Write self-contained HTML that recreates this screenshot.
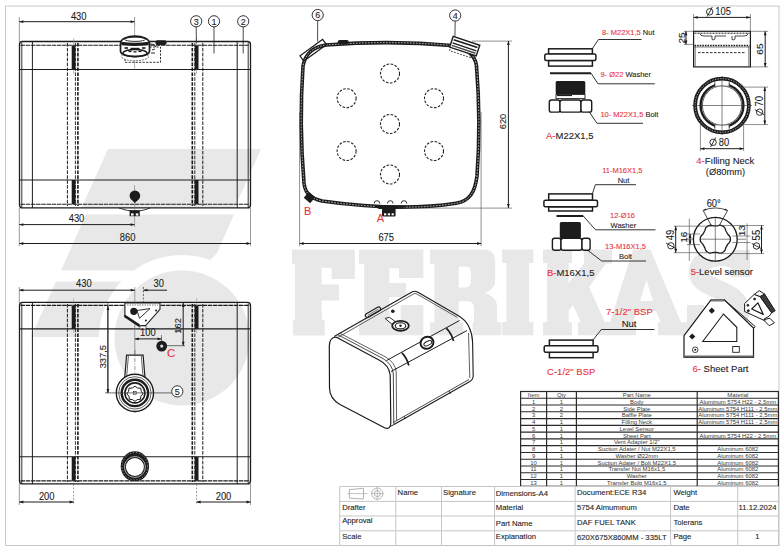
<!DOCTYPE html>
<html><head><meta charset="utf-8"><style>
html,body{margin:0;padding:0;background:#fff;}
body{width:784px;height:552px;overflow:hidden;font-family:"Liberation Sans",sans-serif;}
svg{display:block;}
text{stroke-width:0.1px;}
</style></head><body>
<svg width="784" height="552" viewBox="0 0 784 552" font-family="Liberation Sans">
<defs><mask id="wmcut"><rect x="0" y="0" width="784" height="552" fill="#fff"/><circle cx="182" cy="338" r="83" fill="#000"/></mask></defs>
<g fill="#e8e8e8">
<polygon points="108,149 261,149 234.5,208 81.5,208"/>
<g mask="url(#wmcut)"><polygon points="86,214.5 234,214.5 217,253 200,270.5 61,270.5"/>
<polygon points="56,281.5 150,281.5 125,337 31,337"/></g>
<circle cx="182" cy="338" r="67.5"/>
</g>
<g fill="#e8e8e8" fill-rule="evenodd">
<path d="M291.9,249.6 L354.8,249.6 L354.8,279 L331.6,279 L331.6,267.8 L321.5,267.8 L321.5,284.6 L339,284.6 L339,300.4 L321.5,300.4 L321.9,320 L324.7,320 L324.7,335.5 L293.1,335.5 L293.1,320 L294.9,320 L294.9,264.3 L291.9,264.3 Z"/>
<path d="M359,249.6 L423.3,249.6 L423.3,277.9 L399,277.9 L399,268.3 L389.4,268.3 L389.4,283.1 L406,283.1 L406,297 L389.4,297 L389.4,320.5 L400.7,320.5 L400.7,304.9 L423.3,304.9 L423.3,335.3 L359,335.3 L359,320.5 L364.2,320.5 L364.2,264 L359,264 Z"/>
<path d="M430.1,249.6 L484,249.6 C491,249.6 495.2,254 495.2,261 L495.2,281 C495.2,287 490,291 484.5,293 C491,295 497,299 497,306 L497,322.2 L501.3,322.2 L501.3,335.2 L472.6,335.2 L472.6,322.2 L474,322.2 L474,308 C474,303 471,301.3 467,301.3 L458.7,301.3 L458.7,322.2 L463.1,322.2 L463.1,335.2 L430.1,335.2 L430.1,322.2 L434.4,322.2 L434.4,264 L430.1,264 Z M458.7,266.6 L466,266.6 C469,266.6 470.9,269 470.9,272 L470.9,282 C470.9,285 469,287.4 466,287.4 L458.7,287.4 Z"/>
<path d="M502.1,249.6 L533.4,249.6 L533.4,263 L529,263 L529,322 L533.4,322 L533.4,335.3 L502.1,335.3 L502.1,322 L506.4,322 L506.4,263 L502.1,263 Z"/>
<path d="M543,249.6 L572,249.6 L572,263 L568.7,263 L568.7,283 L584,263.4 L584,249.6 L612,249.6 L612,263.4 L606,263.4 L589,287 L605,322.2 L609,322.2 L609,335.3 L578,335.3 L578,322.2 L581,322.2 L573,305 L568.7,310 L568.7,322.2 L572,322.2 L572,335.3 L543,335.3 L543,322.2 L547.2,322.2 L547.2,263 L543,263 Z"/>
<path d="M633,249.6 L650.5,249.6 L681,322.2 L687,322.2 L687,335.3 L658,335.3 L658,322.2 L661,322.2 L656,311 L637,311 L633,322.2 L636,322.2 L636,335.3 L605.4,335.3 L605.4,322.2 L610,322.2 Z M640,301 L653,301 L646.5,280 Z"/>
</g>
<path d="M740.5,268 C741,253 699,251 698.5,272 C698,291 740,287 740,312 C740,336 698,334 697.5,316" fill="none" stroke="#e8e8e8" stroke-width="19"/>
<rect x="731" y="250" width="19" height="27" fill="#e8e8e8"/><rect x="687" y="305" width="17" height="27" fill="#e8e8e8"/>
<rect x="5.5" y="6" width="773.5" height="539.5" rx="0" fill="none" stroke="#c9c9c9" stroke-width="1" />
<rect x="19.5" y="41.5" width="231" height="166.4" rx="3" fill="none" stroke="#1c1c1c" stroke-width="1.3" />
<line x1="20.5" y1="45.3" x2="249.5" y2="45.3" stroke="#1c1c1c" stroke-width="1.1" stroke-dasharray="4.5,0.7" />
<line x1="20.5" y1="204.3" x2="249.5" y2="204.3" stroke="#1c1c1c" stroke-width="1.1" stroke-dasharray="4.5,0.7" />
<line x1="21.8" y1="42.5" x2="21.8" y2="207" stroke="#1c1c1c" stroke-width="0.9" />
<line x1="248.2" y1="42.5" x2="248.2" y2="207" stroke="#1c1c1c" stroke-width="0.9" />
<line x1="32.4" y1="41.5" x2="32.4" y2="208" stroke="#1c1c1c" stroke-width="1.0" />
<line x1="237.2" y1="41.5" x2="237.2" y2="208" stroke="#1c1c1c" stroke-width="1.0" />
<line x1="19.5" y1="69.5" x2="250.5" y2="69.5" stroke="#1c1c1c" stroke-width="1.1" />
<line x1="19.5" y1="180" x2="250.5" y2="180" stroke="#1c1c1c" stroke-width="1.1" />
<line x1="67.39999999999999" y1="43" x2="67.39999999999999" y2="206" stroke="#1c1c1c" stroke-width="1.0" stroke-dasharray="3.6,1.3" />
<line x1="75.39999999999999" y1="43" x2="75.39999999999999" y2="206" stroke="#1c1c1c" stroke-width="0.9" stroke-dasharray="3.6,1.3" />
<line x1="77.89999999999999" y1="43" x2="77.89999999999999" y2="206" stroke="#1c1c1c" stroke-width="1.6" stroke-dasharray="3.6,1.3" />
<line x1="73.6" y1="38" x2="73.6" y2="74" stroke="#888" stroke-width="0.5" />
<rect x="71.69999999999999" y="45.5" width="3.8" height="24" rx="0" fill="#1c1c1c" stroke="#1c1c1c" stroke-width="0" />
<rect x="71.69999999999999" y="180" width="3.8" height="24" rx="0" fill="#1c1c1c" stroke="#1c1c1c" stroke-width="0" />
<line x1="202.79999999999998" y1="43" x2="202.79999999999998" y2="206" stroke="#1c1c1c" stroke-width="1.0" stroke-dasharray="3.6,1.3" />
<line x1="194.79999999999998" y1="43" x2="194.79999999999998" y2="206" stroke="#1c1c1c" stroke-width="0.9" stroke-dasharray="3.6,1.3" />
<line x1="192.29999999999998" y1="43" x2="192.29999999999998" y2="206" stroke="#1c1c1c" stroke-width="1.6" stroke-dasharray="3.6,1.3" />
<line x1="196.6" y1="38" x2="196.6" y2="74" stroke="#888" stroke-width="0.5" />
<rect x="194.7" y="45.5" width="3.8" height="24" rx="0" fill="#1c1c1c" stroke="#1c1c1c" stroke-width="0" />
<rect x="194.7" y="180" width="3.8" height="24" rx="0" fill="#1c1c1c" stroke="#1c1c1c" stroke-width="0" />
<line x1="134.6" y1="26" x2="134.6" y2="70" stroke="#777" stroke-width="0.6" />
<path d="M146,47 L160.5,47 L160.5,62.3 L125,62.3 L125,58" fill="none" stroke="#1c1c1c" stroke-width="0.9" stroke-dasharray="2.2,1.3" />
<ellipse cx="135" cy="56.5" rx="13.6" ry="4.2" fill="#fff" stroke="#555" stroke-width="0.8" stroke-dasharray="2,1"/>
<path d="M120.5,43.5 C120.5,33.6 149.5,33.6 149.5,43.5 L149.5,51 C149.5,58.5 120.5,58.5 120.5,51 Z" fill="#fff" stroke="#1c1c1c" stroke-width="1.7"/>
<ellipse cx="135" cy="39.3" rx="10.5" ry="2.1" fill="none" stroke="#1c1c1c" stroke-width="0.9"/>
<path d="M121.3,41.8 Q135,43.5 148.7,41.8 L148.7,45.2 Q135,46.8 121.3,45.2 Z" fill="#1c1c1c"/>
<ellipse cx="135" cy="53" rx="12" ry="3.6" fill="none" stroke="#1c1c1c" stroke-width="1.5"/>
<rect x="124.5" y="47.2" width="3.5" height="1.6" rx="0" fill="#1c1c1c" stroke="#1c1c1c" stroke-width="0" />
<rect x="130.5" y="47.8" width="9" height="1.8" rx="0" fill="#1c1c1c" stroke="#1c1c1c" stroke-width="0" />
<rect x="142" y="47.2" width="3.5" height="1.6" rx="0" fill="#1c1c1c" stroke="#1c1c1c" stroke-width="0" />
<rect x="128.5" y="50.6" width="3" height="1.5" rx="0" fill="#1c1c1c" stroke="#1c1c1c" stroke-width="0" />
<rect x="138.5" y="50.6" width="3" height="1.5" rx="0" fill="#1c1c1c" stroke="#1c1c1c" stroke-width="0" />
<rect x="133.5" y="51.2" width="3" height="1.3" rx="0" fill="#1c1c1c" stroke="#1c1c1c" stroke-width="0" />
<path d="M150,44 L154,44.5 L156,47 M152,50 L155,49 M151,53 L155,53" fill="none" stroke="#1c1c1c" stroke-width="0.9" />
<rect x="155.5" y="40.3" width="11" height="4.7" rx="1.8" fill="#1c1c1c" stroke="#1c1c1c" stroke-width="0" />
<line x1="134.6" y1="185" x2="134.6" y2="227" stroke="#777" stroke-width="0.6" />
<path d="M134.9,203 L131.2,199.6 A5.3,5.3 0 1 1 138.6,199.6 Z" fill="#1c1c1c"/>
<path d="M119,208 C124,209.5 127,210.5 130,210.8 L139.5,210.8 C143,210.5 146,209.5 150,208" fill="none" stroke="#1c1c1c" stroke-width="0.9" />
<rect x="129.6" y="210.3" width="10.2" height="5.9" rx="0" fill="#1c1c1c" stroke="#1c1c1c" stroke-width="0" />
<rect x="131" y="213.4" width="2.6" height="2.2" rx="0" fill="#fff" stroke="#1c1c1c" stroke-width="0" />
<rect x="135.8" y="213.4" width="2.6" height="2.2" rx="0" fill="#fff" stroke="#1c1c1c" stroke-width="0" />
<line x1="19.3" y1="17" x2="19.3" y2="42" stroke="#555" stroke-width="0.6" />
<line x1="134.6" y1="17" x2="134.6" y2="26" stroke="#555" stroke-width="0.6" />
<line x1="19.3" y1="21.7" x2="134.6" y2="21.7" stroke="#1c1c1c" stroke-width="1.0" />
<path d="M19.30,21.70 L23.30,20.30 L23.30,23.10 Z" fill="#1c1c1c"/>
<path d="M134.60,21.70 L130.60,23.10 L130.60,20.30 Z" fill="#1c1c1c"/>
<text transform="translate(78.7,19.6) scale(0.9,1)" x="0" y="0" font-size="10.4" text-anchor="middle" fill="#1c1c1c" stroke="#1c1c1c">430</text>
<line x1="19.3" y1="208" x2="19.3" y2="246" stroke="#555" stroke-width="0.6" />
<line x1="250.5" y1="208" x2="250.5" y2="246" stroke="#555" stroke-width="0.6" />
<line x1="19.3" y1="224.6" x2="134.6" y2="224.6" stroke="#1c1c1c" stroke-width="1.0" />
<path d="M19.30,224.60 L23.30,223.20 L23.30,226.00 Z" fill="#1c1c1c"/>
<path d="M134.60,224.60 L130.60,226.00 L130.60,223.20 Z" fill="#1c1c1c"/>
<text transform="translate(76.5,222.3) scale(0.9,1)" x="0" y="0" font-size="10.4" text-anchor="middle" fill="#1c1c1c" stroke="#1c1c1c">430</text>
<line x1="19.3" y1="243.5" x2="250.5" y2="243.5" stroke="#1c1c1c" stroke-width="1.0" />
<path d="M19.30,243.50 L23.30,242.10 L23.30,244.90 Z" fill="#1c1c1c"/>
<path d="M250.50,243.50 L246.50,244.90 L246.50,242.10 Z" fill="#1c1c1c"/>
<text transform="translate(127.6,240.8) scale(0.9,1)" x="0" y="0" font-size="10.4" text-anchor="middle" fill="#1c1c1c" stroke="#1c1c1c">860</text>
<circle cx="196.2" cy="21.3" r="5.6" fill="#fff" stroke="#1c1c1c" stroke-width="0.9"/>
<text x="196.2" y="24.6" font-size="9" text-anchor="middle" fill="#1c1c1c" font-family="Liberation Sans"  stroke="#1c1c1c">3</text>
<line x1="196.2" y1="26.9" x2="196.4" y2="43" stroke="#1c1c1c" stroke-width="0.8" />
<circle cx="214" cy="21.3" r="5.6" fill="#fff" stroke="#1c1c1c" stroke-width="0.9"/>
<text x="214" y="24.6" font-size="9" text-anchor="middle" fill="#1c1c1c" font-family="Liberation Sans"  stroke="#1c1c1c">1</text>
<line x1="214" y1="26.9" x2="214" y2="53.5" stroke="#1c1c1c" stroke-width="0.8" />
<circle cx="243.2" cy="21.3" r="5.6" fill="#fff" stroke="#1c1c1c" stroke-width="0.9"/>
<text x="243.2" y="24.6" font-size="9" text-anchor="middle" fill="#1c1c1c" font-family="Liberation Sans"  stroke="#1c1c1c">2</text>
<line x1="243.2" y1="26.9" x2="243.2" y2="53.5" stroke="#1c1c1c" stroke-width="0.8" />
<path d="M326,45 Q390,40 452,45.5 C466,48 475,54 476.5,66 Q481,122 477,176 C475,192 470,201 456,203.3 Q400,212 322,201 C309,198 305,192 304,183 Q299,124 303,66 C305,55 312,47 326,45 Z" fill="none" stroke="#1c1c1c" stroke-width="3.6" />
<path d="M326,45 Q390,40 452,45.5 C466,48 475,54 476.5,66 Q481,122 477,176 C475,192 470,201 456,203.3 Q400,212 322,201 C309,198 305,192 304,183 Q299,124 303,66 C305,55 312,47 326,45 Z" fill="none" stroke="#fff" stroke-width="0.7" stroke-dasharray="1.6,1.4" />
<circle cx="390" cy="73.5" r="9.5" fill="none" stroke="#222" stroke-width="1.1" stroke-dasharray="2.6,1.5"/>
<circle cx="346.6" cy="98.2" r="9.5" fill="none" stroke="#222" stroke-width="1.1" stroke-dasharray="2.6,1.5"/>
<circle cx="434" cy="98.2" r="9.5" fill="none" stroke="#222" stroke-width="1.1" stroke-dasharray="2.6,1.5"/>
<circle cx="390" cy="124" r="9.5" fill="none" stroke="#222" stroke-width="1.1" stroke-dasharray="2.6,1.5"/>
<circle cx="346.6" cy="151" r="9.5" fill="none" stroke="#222" stroke-width="1.1" stroke-dasharray="2.6,1.5"/>
<circle cx="434" cy="151" r="9.5" fill="none" stroke="#222" stroke-width="1.1" stroke-dasharray="2.6,1.5"/>
<circle cx="390" cy="174.5" r="9.5" fill="none" stroke="#222" stroke-width="1.1" stroke-dasharray="2.6,1.5"/>
<g transform="translate(313.2,50.3) rotate(-36)"><rect x="-14" y="-3.3" width="28" height="6.6" fill="none" stroke="#1c1c1c" stroke-width="1.2"/></g>
<rect x="337.8" y="40" width="10.9" height="4.2" rx="1.8" fill="#1c1c1c" stroke="#1c1c1c" stroke-width="0" />
<g transform="translate(464.7,46.2) rotate(18.4)"><path d="M-13,4 L-13,9 L10,9" fill="none" stroke="#1c1c1c" stroke-width="0.7" stroke-dasharray="2,1.2"/><rect x="-14" y="-5.6" width="28" height="11.2" fill="#fff" stroke="#1c1c1c" stroke-width="1.4"/><rect x="-12.5" y="-3.5" width="25" height="1.6" fill="#1c1c1c"/><rect x="-12.5" y="0" width="25" height="1.4" fill="#1c1c1c"/><rect x="-12.5" y="2.6" width="25" height="1.4" fill="#1c1c1c" opacity="0.8"/></g>
<g transform="translate(309.5,197.5) rotate(40)"><rect x="-4.2" y="-4" width="8.4" height="8" fill="#1c1c1c"/></g>
<path d="M374.2,203.5 A2.8,2.8 0 0 1 379.8,203.5" fill="none" stroke="#1c1c1c" stroke-width="0.9" />
<path d="M387.5,203.5 A2.8,2.8 0 0 1 393.1,203.5" fill="none" stroke="#1c1c1c" stroke-width="0.9" />
<path d="M401.2,203.5 A2.8,2.8 0 0 1 406.8,203.5" fill="none" stroke="#1c1c1c" stroke-width="0.9" />
<path d="M374,205.5 L407,205.5 L402,209 L379,209 Z" fill="#1c1c1c" stroke="#1c1c1c" stroke-width="0" />
<rect x="382" y="208.5" width="13.6" height="8" rx="1" fill="#1c1c1c" stroke="#1c1c1c" stroke-width="0" />
<rect x="384" y="213.3" width="2.2" height="2" rx="0" fill="#fff" stroke="#1c1c1c" stroke-width="0" />
<rect x="387.8" y="213.3" width="2.2" height="2" rx="0" fill="#fff" stroke="#1c1c1c" stroke-width="0" />
<rect x="391.6" y="213.3" width="2.2" height="2" rx="0" fill="#fff" stroke="#1c1c1c" stroke-width="0" />
<text x="307.6" y="215.2" font-size="11" text-anchor="middle" fill="#e8333f" font-family="Liberation Sans"  stroke="#e8333f">B</text>
<text x="380.3" y="222.2" font-size="11" text-anchor="middle" fill="#e8333f" font-family="Liberation Sans"  stroke="#e8333f">A</text>
<line x1="472" y1="41.1" x2="512" y2="41.1" stroke="#444" stroke-width="0.6" />
<line x1="397" y1="208.1" x2="512" y2="208.1" stroke="#444" stroke-width="0.6" />
<line x1="508.4" y1="41.1" x2="508.4" y2="208.1" stroke="#1c1c1c" stroke-width="1.0" />
<path d="M508.40,41.10 L509.80,45.10 L507.00,45.10 Z" fill="#1c1c1c"/>
<path d="M508.40,208.10 L507.00,204.10 L509.80,204.10 Z" fill="#1c1c1c"/>
<text transform="translate(506.1,121.5) scale(0.95,1) rotate(-90)" x="0" y="0" font-size="9.3" text-anchor="middle" fill="#1c1c1c" stroke="#1c1c1c">620</text>
<line x1="299.6" y1="112" x2="299.6" y2="246" stroke="#444" stroke-width="0.6" />
<line x1="481.1" y1="112" x2="481.1" y2="246" stroke="#444" stroke-width="0.6" />
<line x1="299.6" y1="243.5" x2="481.1" y2="243.5" stroke="#1c1c1c" stroke-width="1.0" />
<path d="M299.60,243.50 L303.60,242.10 L303.60,244.90 Z" fill="#1c1c1c"/>
<path d="M481.10,243.50 L477.10,244.90 L477.10,242.10 Z" fill="#1c1c1c"/>
<text transform="translate(386.2,240.8) scale(0.9,1)" x="0" y="0" font-size="10.4" text-anchor="middle" fill="#1c1c1c" stroke="#1c1c1c">675</text>
<circle cx="317.7" cy="15" r="5.6" fill="#fff" stroke="#1c1c1c" stroke-width="0.9"/>
<text x="317.7" y="18.3" font-size="9" text-anchor="middle" fill="#1c1c1c" font-family="Liberation Sans"  stroke="#1c1c1c">6</text>
<line x1="317.7" y1="20.6" x2="317.6" y2="41.5" stroke="#1c1c1c" stroke-width="0.8" />
<circle cx="455.2" cy="15.5" r="5.6" fill="#fff" stroke="#1c1c1c" stroke-width="0.9"/>
<text x="455.2" y="18.8" font-size="9" text-anchor="middle" fill="#1c1c1c" font-family="Liberation Sans"  stroke="#1c1c1c">4</text>
<line x1="455.2" y1="21.1" x2="454.9" y2="36.5" stroke="#1c1c1c" stroke-width="0.8" />
<rect x="19.5" y="302.4" width="231" height="181.5" rx="3" fill="none" stroke="#1c1c1c" stroke-width="1.3" />
<line x1="20.5" y1="305.4" x2="249.5" y2="305.4" stroke="#1c1c1c" stroke-width="1.1" stroke-dasharray="4.5,0.7" />
<line x1="20.5" y1="480.9" x2="249.5" y2="480.9" stroke="#1c1c1c" stroke-width="1.1" stroke-dasharray="4.5,0.7" />
<line x1="21.8" y1="303.4" x2="21.8" y2="483" stroke="#1c1c1c" stroke-width="0.9" />
<line x1="248.2" y1="303.4" x2="248.2" y2="483" stroke="#1c1c1c" stroke-width="0.9" />
<line x1="32.4" y1="302.4" x2="32.4" y2="484" stroke="#1c1c1c" stroke-width="1.0" />
<line x1="237.2" y1="302.4" x2="237.2" y2="484" stroke="#1c1c1c" stroke-width="1.0" />
<line x1="19.5" y1="328.9" x2="250.5" y2="328.9" stroke="#1c1c1c" stroke-width="1.1" />
<line x1="19.5" y1="456.8" x2="250.5" y2="456.8" stroke="#1c1c1c" stroke-width="1.1" />
<line x1="67.39999999999999" y1="304" x2="67.39999999999999" y2="482" stroke="#1c1c1c" stroke-width="1.0" stroke-dasharray="3.6,1.3" />
<line x1="75.39999999999999" y1="304" x2="75.39999999999999" y2="482" stroke="#1c1c1c" stroke-width="0.9" stroke-dasharray="3.6,1.3" />
<line x1="77.89999999999999" y1="304" x2="77.89999999999999" y2="482" stroke="#1c1c1c" stroke-width="1.6" stroke-dasharray="3.6,1.3" />
<line x1="73.6" y1="298" x2="73.6" y2="333" stroke="#888" stroke-width="0.5" />
<rect x="71.69999999999999" y="305.6" width="3.8" height="23.3" rx="0" fill="#1c1c1c" stroke="#1c1c1c" stroke-width="0" />
<rect x="71.69999999999999" y="456.8" width="3.8" height="24" rx="0" fill="#1c1c1c" stroke="#1c1c1c" stroke-width="0" />
<line x1="202.79999999999998" y1="304" x2="202.79999999999998" y2="482" stroke="#1c1c1c" stroke-width="1.0" stroke-dasharray="3.6,1.3" />
<line x1="194.79999999999998" y1="304" x2="194.79999999999998" y2="482" stroke="#1c1c1c" stroke-width="0.9" stroke-dasharray="3.6,1.3" />
<line x1="192.29999999999998" y1="304" x2="192.29999999999998" y2="482" stroke="#1c1c1c" stroke-width="1.6" stroke-dasharray="3.6,1.3" />
<line x1="196.6" y1="298" x2="196.6" y2="333" stroke="#888" stroke-width="0.5" />
<rect x="194.7" y="305.6" width="3.8" height="23.3" rx="0" fill="#1c1c1c" stroke="#1c1c1c" stroke-width="0" />
<rect x="194.7" y="456.8" width="3.8" height="24" rx="0" fill="#1c1c1c" stroke="#1c1c1c" stroke-width="0" />
<line x1="107.9" y1="303" x2="107.9" y2="393" stroke="#333" stroke-width="0.7" />
<line x1="134.8" y1="287" x2="134.8" y2="413" stroke="#666" stroke-width="0.6" />
<line x1="143.4" y1="287" x2="143.4" y2="303" stroke="#333" stroke-width="0.7" stroke-dasharray="2,1.5" />
<path d="M124.9,302.9 L160,302.9 L160,309.3 L145.9,325.3 L139.5,326 L124.9,316.4 Z" fill="#fff" stroke="#1c1c1c" stroke-width="1.1"/>
<path d="M124.9,314.5 L140,324.5 L139,327 L124,317 Z" fill="#1c1c1c"/>
<path d="M137,310.5 L150,308.6 L139.5,318.3 Z" fill="none" stroke="#1c1c1c" stroke-width="0.9"/>
<circle cx="133.8" cy="311.3" r="3.6" fill="#1c1c1c" stroke="#1c1c1c" stroke-width="0"/>
<circle cx="156.1" cy="310.6" r="1" fill="#1c1c1c" stroke="#1c1c1c" stroke-width="0"/>
<circle cx="145.9" cy="320.6" r="1" fill="#1c1c1c" stroke="#1c1c1c" stroke-width="0"/>
<line x1="127" y1="305" x2="158" y2="305" stroke="#555" stroke-width="0.8" stroke-dasharray="1.5,1" />
<rect x="140" y="326" width="6" height="3" rx="0" fill="#fff" stroke="#1c1c1c" stroke-width="0.6" />
<line x1="143.4" y1="290.2" x2="167" y2="290.2" stroke="#1c1c1c" stroke-width="1.0" />
<path d="M143.40,290.20 L147.40,288.80 L147.40,291.60 Z" fill="#1c1c1c"/>
<text transform="translate(83.8,287.4) scale(0.9,1)" x="0" y="0" font-size="10.4" text-anchor="middle" fill="#1c1c1c" stroke="#1c1c1c">430</text>
<text transform="translate(158.8,287.4) scale(0.9,1)" x="0" y="0" font-size="10.4" text-anchor="middle" fill="#1c1c1c" stroke="#1c1c1c">30</text>
<line x1="19.3" y1="290.2" x2="134.8" y2="290.2" stroke="#1c1c1c" stroke-width="1.0" />
<path d="M19.30,290.20 L23.30,288.80 L23.30,291.60 Z" fill="#1c1c1c"/>
<path d="M134.80,290.20 L130.80,291.60 L130.80,288.80 Z" fill="#1c1c1c"/>
<line x1="19.3" y1="287" x2="19.3" y2="303" stroke="#555" stroke-width="0.6" />
<line x1="183.2" y1="303" x2="183.2" y2="345.7" stroke="#1c1c1c" stroke-width="1.0" />
<path d="M183.20,303.00 L184.60,307.00 L181.80,307.00 Z" fill="#1c1c1c"/>
<path d="M183.20,345.70 L181.80,341.70 L184.60,341.70 Z" fill="#1c1c1c"/>
<line x1="161" y1="345.7" x2="185" y2="345.7" stroke="#333" stroke-width="0.7" />
<text transform="translate(180.8,325.9) scale(0.95,1) rotate(-90)" x="0" y="0" font-size="9.3" text-anchor="middle" fill="#1c1c1c" stroke="#1c1c1c">162</text>
<line x1="134.8" y1="338.9" x2="161.5" y2="338.9" stroke="#1c1c1c" stroke-width="1.0" />
<path d="M134.80,338.90 L138.80,337.50 L138.80,340.30 Z" fill="#1c1c1c"/>
<path d="M161.50,338.90 L157.50,340.30 L157.50,337.50 Z" fill="#1c1c1c"/>
<line x1="161.5" y1="335" x2="161.5" y2="341" stroke="#333" stroke-width="0.6" />
<text transform="translate(147.8,336.4) scale(0.9,1)" x="0" y="0" font-size="10.4" text-anchor="middle" fill="#1c1c1c" stroke="#1c1c1c">100</text>
<circle cx="161.7" cy="346.1" r="5.4" fill="#1c1c1c" stroke="#1c1c1c" stroke-width="0"/>
<circle cx="161.7" cy="346.1" r="1.6" fill="#ddd" stroke="#1c1c1c" stroke-width="0"/>
<text x="171.1" y="356.8" font-size="11.5" text-anchor="middle" fill="#e8333f" font-family="Liberation Sans"  stroke="#e8333f">C</text>
<path d="M126.6,355.2 L143.1,355.2 L145,378 L124.7,378 Z" fill="#fff" stroke="#1c1c1c" stroke-width="1.2"/>
<line x1="128.4" y1="356" x2="126.6" y2="377" stroke="#1c1c1c" stroke-width="0.7" />
<line x1="141.3" y1="356" x2="143.1" y2="377" stroke="#1c1c1c" stroke-width="0.7" />
<line x1="134.9" y1="350" x2="134.9" y2="412" stroke="#555" stroke-width="0.6" stroke-dasharray="4,1.5,1,1.5" />
<circle cx="134.9" cy="392.9" r="18.6" fill="#fff" stroke="#1c1c1c" stroke-width="1.4"/>
<circle cx="134.9" cy="392.9" r="16.2" fill="none" stroke="#1c1c1c" stroke-width="0.7"/>
<circle cx="134.9" cy="392.9" r="13.2" fill="none" stroke="#1c1c1c" stroke-width="2.4"/>
<circle cx="134.9" cy="392.9" r="10" fill="none" stroke="#1c1c1c" stroke-width="1.6"/>
<path d="M134.9,386.2 L137.5,388 L140.8,388.2 L141.2,391.3 L143,393.9 L140.8,396.2 L140.5,399.3 L137.4,399.6 L134.9,401.3 L132.4,399.6 L129.3,399.3 L129,396.2 L126.8,393.9 L128.6,391.3 L129,388.2 L132.3,388 Z" fill="#fff" stroke="#1c1c1c" stroke-width="1"/>
<rect x="133.6" y="391.6" width="2.6" height="2.6" rx="0" fill="#eee" stroke="#1c1c1c" stroke-width="0.6" />
<line x1="107.9" y1="305.9" x2="107.9" y2="392.9" stroke="#1c1c1c" stroke-width="1.0" />
<path d="M107.90,305.90 L109.30,309.90 L106.50,309.90 Z" fill="#1c1c1c"/>
<path d="M107.90,392.90 L106.50,388.90 L109.30,388.90 Z" fill="#1c1c1c"/>
<line x1="105" y1="392.9" x2="171.6" y2="392.9" stroke="#333" stroke-width="0.7" />
<text transform="translate(106.2,356.7) scale(0.95,1) rotate(-90)" x="0" y="0" font-size="9.3" text-anchor="middle" fill="#1c1c1c" stroke="#1c1c1c">337,5</text>
<circle cx="177.3" cy="391.4" r="5.6" fill="#fff" stroke="#1c1c1c" stroke-width="0.9"/>
<text x="177.3" y="394.7" font-size="9" text-anchor="middle" fill="#1c1c1c" font-family="Liberation Sans"  stroke="#1c1c1c">5</text>
<ellipse cx="134.9" cy="466.3" rx="14.2" ry="15" fill="#1c1c1c"/>
<ellipse cx="134.9" cy="466.3" rx="12.8" ry="13.6" fill="none" stroke="#fff" stroke-width="0.6" stroke-dasharray="1,2"/>
<circle cx="134.9" cy="467" r="9" fill="#fff" stroke="#1c1c1c" stroke-width="0"/>
<circle cx="134.9" cy="467" r="10.5" fill="none" stroke="#fff" stroke-width="0.6"/>
<line x1="19.3" y1="484" x2="19.3" y2="505" stroke="#555" stroke-width="0.6" />
<line x1="73.6" y1="484" x2="73.6" y2="505" stroke="#555" stroke-width="0.6" stroke-dasharray="2,1.5" />
<line x1="196.6" y1="484" x2="196.6" y2="505" stroke="#555" stroke-width="0.6" stroke-dasharray="2,1.5" />
<line x1="250.5" y1="484" x2="250.5" y2="505" stroke="#555" stroke-width="0.6" />
<line x1="19.3" y1="502" x2="73.6" y2="502" stroke="#1c1c1c" stroke-width="1.0" />
<path d="M19.30,502.00 L23.30,500.60 L23.30,503.40 Z" fill="#1c1c1c"/>
<path d="M73.60,502.00 L69.60,503.40 L69.60,500.60 Z" fill="#1c1c1c"/>
<line x1="196.6" y1="502" x2="250.5" y2="502" stroke="#1c1c1c" stroke-width="1.0" />
<path d="M196.60,502.00 L200.60,500.60 L200.60,503.40 Z" fill="#1c1c1c"/>
<path d="M250.50,502.00 L246.50,503.40 L246.50,500.60 Z" fill="#1c1c1c"/>
<text transform="translate(46.7,499.6) scale(0.9,1)" x="0" y="0" font-size="10.4" text-anchor="middle" fill="#1c1c1c" stroke="#1c1c1c">200</text>
<text transform="translate(223.5,499.6) scale(0.9,1)" x="0" y="0" font-size="10.4" text-anchor="middle" fill="#1c1c1c" stroke="#1c1c1c">200</text>
<g fill="none" stroke="#1c1c1c" stroke-linejoin="round">
<path d="M334.2,336.6 L411.5,292.2 Q414.4,290.3 417.5,292 L458,315.5 Q466,320 469,327 Q472.4,334 472.6,342 L473.2,376 Q473,380 469,382 L394,424.5" stroke-width="1.1"/>
<path d="M336.5,338.2 L413.8,293.8 Q415,293 416.5,293.8 L457,317.2" stroke-width="0.7"/>
<path d="M386.6,360.5 L459.5,320.5" stroke-width="1"/>
<path d="M391,371.5 L467,330.5" stroke-width="1"/>
<path d="M468.5,333 L469.8,378" stroke-width="0.7"/>
<path d="M393.5,422.4 L469,379.5" stroke-width="0.8"/>
<path d="M388.5,427.5 L394,424.5" stroke-width="1"/>
<path d="M404,416 L405.5,419 M449,391 L450.5,394" stroke-width="0.8"/>
<path d="M336,337 L379,360 Q389,365 390.2,375 L390.8,423 Q390.5,430 384.5,427.8 L340,404.5 Q329.6,398.5 329.5,388 L329.3,346 Q329.4,337.5 336,337 Z" stroke-width="1.2" fill="#fff"/>
<path d="M337,334.3 L383,358.6 Q392.5,364 393.3,374 L393.8,424" stroke-width="0.8"/>
<path d="M339.5,333 L386,357.2 Q395.5,363 396.2,372 L396.6,420.5" stroke-width="0.7"/>
<g transform="translate(373,312.3) rotate(-30)"><rect x="-8.5" y="-2" width="17" height="4" rx="2" stroke-width="1.1"/><line x1="-6" y1="0" x2="6" y2="0" stroke-width="0.5"/></g>
<circle cx="392.8" cy="311.2" r="1.8" fill="#1c1c1c" stroke="none"/>
<path d="M385.1,318.5 L389.5,317.3 L396.5,322.5 L392,324.2 Z" stroke-width="0.9" fill="#fff"/>
<ellipse cx="400.5" cy="325.8" rx="8.3" ry="5" stroke-width="1.8" fill="#fff"/>
<ellipse cx="400.5" cy="325.8" rx="5.3" ry="3.1" stroke-width="1.1"/>
<circle cx="400.5" cy="325.8" r="1.2" fill="#1c1c1c" stroke="none"/>
<g transform="translate(427,342.8) rotate(-25)"><ellipse cx="0" cy="0" rx="6.6" ry="5.9" stroke-width="2" fill="#fff"/><ellipse cx="0.5" cy="0.8" rx="4.2" ry="2" stroke-width="1"/></g>
<path d="M402,352.8 Q407,358 408.8,365.5 M446.3,328.1 Q451.5,333.5 453.6,341" stroke-width="1.7"/>
</g>
<rect x="548.6" y="48.8" width="43.799999999999955" height="5.300000000000004" rx="0" fill="#fff" stroke="#1c1c1c" stroke-width="1.5" />
<rect x="548.6" y="60.5" width="43.799999999999955" height="5.599999999999994" rx="0" fill="#fff" stroke="#1c1c1c" stroke-width="1.5" />
<rect x="544.8" y="54.1" width="51.10000000000002" height="6.399999999999999" rx="1.5" fill="#fff" stroke="#1c1c1c" stroke-width="1.5" />
<line x1="550" y1="73.2" x2="591" y2="73.2" stroke="#1c1c1c" stroke-width="2.0" />
<rect x="555.7" y="81" width="29.6" height="13.4" rx="1.5" fill="#1c1c1c" stroke="#1c1c1c" stroke-width="0" />
<rect x="556" y="94.4" width="29" height="4.2" rx="0" fill="#fff" stroke="#1c1c1c" stroke-width="0.9" />
<line x1="557" y1="95.5" x2="572" y2="95.5" stroke="#1c1c1c" stroke-width="1.2" />
<rect x="549.3" y="100" width="10.700000000000045" height="12.1" rx="2.2" fill="#fff" stroke="#1c1c1c" stroke-width="1.4" />
<rect x="560" y="100" width="21" height="12.1" rx="2.2" fill="#fff" stroke="#1c1c1c" stroke-width="1.4" />
<rect x="581" y="100" width="10.700000000000045" height="12.1" rx="2.2" fill="#fff" stroke="#1c1c1c" stroke-width="1.4" />
<text x="546" y="138.7" font-size="9.5" text-anchor="start" fill="#1c1c1c" font-family="Liberation Sans"  stroke="#1c1c1c"><tspan fill="#e8333f" stroke="#e8333f">A-</tspan>M22X1,5</text>
<path d="M592.4,48.5 L598.5,39.5 L641.5,39.5" fill="none" stroke="#1c1c1c" stroke-width="0.9" />
<text x="602" y="35.4" font-size="7.5" text-anchor="start" fill="#1c1c1c" font-family="Liberation Sans"  stroke="#1c1c1c"><tspan fill="#e8333f" stroke="#e8333f">8- M22X1,5</tspan> Nut</text>
<path d="M591,73.2 L598,83.8 L654.8,83.8" fill="none" stroke="#1c1c1c" stroke-width="0.9" />
<text x="600.4" y="77.3" font-size="7.5" text-anchor="start" fill="#1c1c1c" font-family="Liberation Sans"  stroke="#1c1c1c"><tspan fill="#e8333f" stroke="#e8333f">9- Ø22</tspan> Washer</text>
<path d="M589,111.5 L597,123.3 L643,123.3" fill="none" stroke="#1c1c1c" stroke-width="0.9" />
<text x="600.4" y="116.8" font-size="7.5" text-anchor="start" fill="#1c1c1c" font-family="Liberation Sans"  stroke="#1c1c1c"><tspan fill="#e8333f" stroke="#e8333f">10- M22X1,5</tspan> Bolt</text>
<rect x="548.7" y="193.9" width="43.799999999999955" height="6.400000000000006" rx="0" fill="#fff" stroke="#1c1c1c" stroke-width="1.5" />
<rect x="548.7" y="206.8" width="43.799999999999955" height="4.199999999999989" rx="0" fill="#fff" stroke="#1c1c1c" stroke-width="1.5" />
<rect x="543.9" y="200.3" width="53.60000000000002" height="6.5" rx="1.5" fill="#fff" stroke="#1c1c1c" stroke-width="1.5" />
<line x1="556.5" y1="216" x2="583.3" y2="216" stroke="#1c1c1c" stroke-width="2.0" />
<rect x="559.8" y="222.1" width="21.1" height="16.1" rx="1.5" fill="#1c1c1c" stroke="#1c1c1c" stroke-width="0" />
<rect x="552.4" y="238.2" width="8.600000000000023" height="12" rx="2.2" fill="#fff" stroke="#1c1c1c" stroke-width="1.4" />
<rect x="561" y="238.2" width="21" height="12" rx="2.2" fill="#fff" stroke="#1c1c1c" stroke-width="1.4" />
<rect x="582" y="238.2" width="8.100000000000023" height="12" rx="2.2" fill="#fff" stroke="#1c1c1c" stroke-width="1.4" />
<text x="546.9" y="276.1" font-size="9.5" text-anchor="start" fill="#1c1c1c" font-family="Liberation Sans"  stroke="#1c1c1c"><tspan fill="#e8333f" stroke="#e8333f">B-</tspan>M16X1,5</text>
<path d="M592.5,193.5 L595.3,184.7 L636,184.7" fill="none" stroke="#1c1c1c" stroke-width="0.9" />
<text x="622.3" y="173.2" font-size="7.5" text-anchor="middle" fill="#e8333f" font-family="Liberation Sans"  stroke="#e8333f">11-M16X1,5</text>
<text x="623.5" y="183.2" font-size="7.5" text-anchor="middle" fill="#1c1c1c" font-family="Liberation Sans"  stroke="#1c1c1c">Nut</text>
<path d="M583.3,216 L595.5,229.8 L655.5,229.8" fill="none" stroke="#1c1c1c" stroke-width="0.9" />
<text x="622.5" y="217.9" font-size="7.5" text-anchor="middle" fill="#e8333f" font-family="Liberation Sans"  stroke="#e8333f">12-Ø16</text>
<text x="623.4" y="227.7" font-size="7.5" text-anchor="middle" fill="#1c1c1c" font-family="Liberation Sans"  stroke="#1c1c1c">Washer</text>
<path d="M588,250.5 L601.7,261 L646,261" fill="none" stroke="#1c1c1c" stroke-width="0.9" />
<text x="625.5" y="248.6" font-size="7.5" text-anchor="middle" fill="#e8333f" font-family="Liberation Sans"  stroke="#e8333f">13-M16X1,5</text>
<text x="625.5" y="259" font-size="7.5" text-anchor="middle" fill="#1c1c1c" font-family="Liberation Sans"  stroke="#1c1c1c">Bolt</text>
<rect x="549.4" y="340.1" width="43.700000000000045" height="5.699999999999989" rx="0" fill="#fff" stroke="#1c1c1c" stroke-width="1.5" />
<rect x="549.4" y="352.3" width="43.700000000000045" height="5.399999999999977" rx="0" fill="#fff" stroke="#1c1c1c" stroke-width="1.5" />
<rect x="544.2" y="345.8" width="53.799999999999955" height="6.5" rx="1.5" fill="#fff" stroke="#1c1c1c" stroke-width="1.5" />
<path d="M593.1,339.8 L601.3,329.5 L654.4,329.5" fill="none" stroke="#1c1c1c" stroke-width="0.9" />
<text x="629.4" y="315.3" font-size="9.5" text-anchor="middle" fill="#e8333f" font-family="Liberation Sans"  stroke="#e8333f">7-1/2" BSP</text>
<text x="629.1" y="327" font-size="9.5" text-anchor="middle" fill="#1c1c1c" font-family="Liberation Sans"  stroke="#1c1c1c">Nut</text>
<text x="547.1" y="375.2" font-size="9.5" text-anchor="start" fill="#e8333f" font-family="Liberation Sans"  stroke="#e8333f">C-1/2" BSP</text>
<rect x="693.6" y="31.3" width="56.8" height="35.6" rx="0" fill="#fff" stroke="#1c1c1c" stroke-width="1.2" />
<line x1="694.5" y1="33.2" x2="749.5" y2="33.2" stroke="#1c1c1c" stroke-width="1.0" stroke-dasharray="2,1" />
<path d="M700,33.5 Q700,36 704,36 L712,36 L712,39.5 Q714,40.5 715,39 L715,36 L726,36 M732,36 L732,39.5 Q734,40.5 735,39 L735,36 L744,36 Q748,36 748,33.5" fill="none" stroke="#1c1c1c" stroke-width="0.8" />
<line x1="694.5" y1="45.5" x2="749.5" y2="45.5" stroke="#1c1c1c" stroke-width="1.6" stroke-dasharray="1.6,1" />
<line x1="694.5" y1="47" x2="749.5" y2="47" stroke="#1c1c1c" stroke-width="0.6" />
<line x1="698" y1="52.6" x2="746" y2="52.6" stroke="#1c1c1c" stroke-width="0.9" stroke-dasharray="2.5,1.5" />
<line x1="695.2" y1="46" x2="695.2" y2="66" stroke="#1c1c1c" stroke-width="0.6" />
<line x1="748.8" y1="46" x2="748.8" y2="66" stroke="#1c1c1c" stroke-width="0.6" />
<line x1="693.6" y1="14" x2="693.6" y2="31" stroke="#444" stroke-width="0.6" />
<line x1="750.4" y1="14" x2="750.4" y2="31" stroke="#444" stroke-width="0.6" />
<line x1="693.6" y1="17.4" x2="750.4" y2="17.4" stroke="#1c1c1c" stroke-width="1.0" />
<path d="M693.60,17.40 L697.60,16.00 L697.60,18.80 Z" fill="#1c1c1c"/>
<path d="M750.40,17.40 L746.40,18.80 L746.40,16.00 Z" fill="#1c1c1c"/>
<g transform="translate(718.5,15.3)"><circle cx="-8.81" cy="-3.5" r="3.2" fill="none" stroke="#1c1c1c" stroke-width="0.9"/><line x1="-11.41" y1="1.3" x2="-6.21" y2="-8.3" stroke="#1c1c1c" stroke-width="0.9"/><text transform="translate(-3.21,0) scale(0.9,1)" x="0" y="0" font-size="10.4" fill="#1c1c1c" stroke="#1c1c1c">105</text></g>
<line x1="683.8" y1="31.3" x2="693.6" y2="31.3" stroke="#444" stroke-width="0.6" />
<line x1="683.8" y1="44.4" x2="693.6" y2="44.4" stroke="#444" stroke-width="0.6" />
<line x1="686" y1="31.3" x2="686" y2="44.4" stroke="#1c1c1c" stroke-width="1.0" />
<path d="M686.00,31.30 L687.40,35.30 L684.60,35.30 Z" fill="#1c1c1c"/>
<path d="M686.00,44.40 L684.60,40.40 L687.40,40.40 Z" fill="#1c1c1c"/>
<text transform="translate(684.6,37.9) scale(0.95,1) rotate(-90)" x="0" y="0" font-size="10" text-anchor="middle" fill="#1c1c1c" stroke="#1c1c1c">25</text>
<line x1="750.4" y1="31.3" x2="768.2" y2="31.3" stroke="#444" stroke-width="0.6" />
<line x1="750.4" y1="66.9" x2="768.2" y2="66.9" stroke="#444" stroke-width="0.6" />
<line x1="765.2" y1="31.3" x2="765.2" y2="66.9" stroke="#1c1c1c" stroke-width="1.0" />
<path d="M765.20,31.30 L766.60,35.30 L763.80,35.30 Z" fill="#1c1c1c"/>
<path d="M765.20,66.90 L763.80,62.90 L766.60,62.90 Z" fill="#1c1c1c"/>
<text transform="translate(763.4,49.1) scale(0.95,1) rotate(-90)" x="0" y="0" font-size="10" text-anchor="middle" fill="#1c1c1c" stroke="#1c1c1c">65</text>
<circle cx="722" cy="105.5" r="26.9" fill="none" stroke="#1c1c1c" stroke-width="3.8"/>
<circle cx="722" cy="105.5" r="26.9" fill="none" stroke="#fff" stroke-width="0.7" stroke-dasharray="1.2,1.5"/>
<circle cx="722" cy="105.5" r="21.4" fill="#fff" stroke="#1c1c1c" stroke-width="2.4"/>
<rect x="714.8" y="82.4" width="14.4" height="3.4" rx="0" fill="#fff" stroke="#1c1c1c" stroke-width="0" />
<rect x="714.8" y="125.2" width="14.4" height="3.4" rx="0" fill="#fff" stroke="#1c1c1c" stroke-width="0" />
<line x1="714.8" y1="82.4" x2="714.8" y2="85.8" stroke="#1c1c1c" stroke-width="0.9" />
<line x1="729.2" y1="82.4" x2="729.2" y2="85.8" stroke="#1c1c1c" stroke-width="0.9" />
<line x1="714.8" y1="125.2" x2="714.8" y2="128.6" stroke="#1c1c1c" stroke-width="0.9" />
<line x1="729.2" y1="125.2" x2="729.2" y2="128.6" stroke="#1c1c1c" stroke-width="0.9" />
<circle cx="722" cy="105.5" r="19.6" fill="none" stroke="#1c1c1c" stroke-width="0.7"/>
<line x1="722" y1="76" x2="722" y2="135" stroke="#333" stroke-width="0.6" />
<line x1="692" y1="105.5" x2="752" y2="105.5" stroke="#333" stroke-width="0.6" />
<line x1="742" y1="87.1" x2="768" y2="87.1" stroke="#444" stroke-width="0.6" />
<line x1="742" y1="124.6" x2="768" y2="124.6" stroke="#444" stroke-width="0.6" />
<line x1="764.8" y1="87.1" x2="764.8" y2="124.6" stroke="#1c1c1c" stroke-width="1.0" />
<path d="M764.80,87.10 L766.20,91.10 L763.40,91.10 Z" fill="#1c1c1c"/>
<path d="M764.80,124.60 L763.40,120.60 L766.20,120.60 Z" fill="#1c1c1c"/>
<g transform="translate(763.1,105.9) rotate(-90)"><circle cx="-6.28" cy="-3.5" r="3.2" fill="none" stroke="#1c1c1c" stroke-width="0.9"/><line x1="-8.88" y1="1.3" x2="-3.68" y2="-8.3" stroke="#1c1c1c" stroke-width="0.9"/><text transform="translate(-0.68,0) scale(0.95,1)" x="0" y="0" font-size="10" fill="#1c1c1c" stroke="#1c1c1c">70</text></g>
<line x1="700.4" y1="124" x2="700.4" y2="151" stroke="#444" stroke-width="0.6" />
<line x1="743.6" y1="124" x2="743.6" y2="151" stroke="#444" stroke-width="0.6" />
<line x1="700.4" y1="148.7" x2="743.6" y2="148.7" stroke="#1c1c1c" stroke-width="1.0" />
<path d="M700.40,148.70 L704.40,147.30 L704.40,150.10 Z" fill="#1c1c1c"/>
<path d="M743.60,148.70 L739.60,150.10 L739.60,147.30 Z" fill="#1c1c1c"/>
<g transform="translate(719.3,145.8)"><circle cx="-6.21" cy="-3.5" r="3.2" fill="none" stroke="#1c1c1c" stroke-width="0.9"/><line x1="-8.81" y1="1.3" x2="-3.61" y2="-8.3" stroke="#1c1c1c" stroke-width="0.9"/><text transform="translate(-0.61,0) scale(0.9,1)" x="0" y="0" font-size="10.4" fill="#1c1c1c" stroke="#1c1c1c">80</text></g>
<text x="725.3" y="163.7" font-size="9.5" text-anchor="middle" fill="#1c1c1c" font-family="Liberation Sans"  stroke="#1c1c1c"><tspan fill="#e8333f" stroke="#e8333f">4-</tspan>Fılling Neck</text>
<text x="725.5" y="175.3" font-size="9.3" text-anchor="middle" fill="#1c1c1c" font-family="Liberation Sans"  stroke="#1c1c1c">(Ø80mm)</text>
<line x1="715.3" y1="217.7" x2="715.3" y2="261.7" stroke="#333" stroke-width="0.6" />
<line x1="686" y1="239.2" x2="746" y2="239.2" stroke="#333" stroke-width="0.6" />
<circle cx="715.3" cy="239.2" r="21.9" fill="#fff" stroke="#1c1c1c" stroke-width="1.3"/>
<polygon points="715.30,225.90 716.46,225.89 717.66,225.84 718.98,225.48 720.37,225.26 721.66,225.57 722.85,226.12 723.93,226.88 724.84,227.83 725.34,229.16 725.69,230.48 726.25,231.54 726.82,232.55 727.41,233.55 728.05,234.56 729.02,235.52 729.91,236.62 730.28,237.89 730.40,239.20 730.28,240.51 729.91,241.78 729.02,242.88 728.05,243.84 727.41,244.85 726.82,245.85 726.25,246.86 725.69,247.92 725.34,249.24 724.84,250.57 723.93,251.52 722.85,252.28 721.66,252.83 720.37,253.14 718.98,252.92 717.66,252.56 716.46,252.51 715.30,252.50 714.14,252.51 712.94,252.56 711.62,252.92 710.23,253.14 708.94,252.83 707.75,252.28 706.67,251.52 705.76,250.57 705.26,249.24 704.91,247.92 704.35,246.86 703.78,245.85 703.19,244.85 702.55,243.84 701.58,242.88 700.69,241.78 700.32,240.51 700.20,239.20 700.32,237.89 700.69,236.62 701.58,235.52 702.55,234.56 703.19,233.55 703.78,232.55 704.35,231.54 704.91,230.48 705.26,229.16 705.76,227.83 706.67,226.88 707.75,226.12 708.94,225.57 710.23,225.26 711.62,225.48 712.94,225.84 714.14,225.89" fill="#fff" stroke="#1c1c1c" stroke-width="1.3"/>
<line x1="715.3" y1="217.7" x2="715.3" y2="261.7" stroke="#333" stroke-width="0.6" />
<line x1="700" y1="239.2" x2="731" y2="239.2" stroke="#333" stroke-width="0.6" />
<line x1="711" y1="225" x2="703.1" y2="210.4" stroke="#1c1c1c" stroke-width="0.8" />
<line x1="719.6" y1="225" x2="727.6" y2="210.4" stroke="#1c1c1c" stroke-width="0.8" />
<path d="M703.1,210.4 Q715.3,205.5 727.6,210.4" fill="none" stroke="#1c1c1c" stroke-width="0.8" />
<path d="M703.10,210.40 L705.60,208.47 L706.26,210.35 Z" fill="#1c1c1c"/>
<path d="M727.60,210.40 L724.44,210.35 L725.10,208.47 Z" fill="#1c1c1c"/>
<text transform="translate(713.7,207.1) scale(0.9,1)" x="0" y="0" font-size="10.4" text-anchor="middle" fill="#1c1c1c" stroke="#1c1c1c">60°</text>
<line x1="673.8" y1="226.2" x2="712" y2="226.2" stroke="#444" stroke-width="0.6" />
<line x1="673.8" y1="252.7" x2="712" y2="252.7" stroke="#444" stroke-width="0.6" />
<line x1="675.7" y1="226.2" x2="675.7" y2="252.7" stroke="#1c1c1c" stroke-width="1.0" />
<path d="M675.70,226.20 L677.10,230.20 L674.30,230.20 Z" fill="#1c1c1c"/>
<path d="M675.70,252.70 L674.30,248.70 L677.10,248.70 Z" fill="#1c1c1c"/>
<g transform="translate(674.4,239.5) rotate(-90)"><circle cx="-6.28" cy="-3.5" r="3.2" fill="none" stroke="#1c1c1c" stroke-width="0.9"/><line x1="-8.88" y1="1.3" x2="-3.68" y2="-8.3" stroke="#1c1c1c" stroke-width="0.9"/><text transform="translate(-0.68,0) scale(0.95,1)" x="0" y="0" font-size="10" fill="#1c1c1c" stroke="#1c1c1c">49</text></g>
<line x1="689.3" y1="218.5" x2="689.3" y2="261" stroke="#444" stroke-width="0.6" />
<line x1="686.8" y1="234" x2="700" y2="234" stroke="#444" stroke-width="0.6" />
<line x1="686.8" y1="244.6" x2="700" y2="244.6" stroke="#444" stroke-width="0.6" />
<line x1="690.1" y1="234" x2="690.1" y2="244.6" stroke="#1c1c1c" stroke-width="1.0" />
<path d="M690.10,234.00 L691.50,238.00 L688.70,238.00 Z" fill="#1c1c1c"/>
<path d="M690.10,244.60 L688.70,240.60 L691.50,240.60 Z" fill="#1c1c1c"/>
<text transform="translate(687.4,237.3) scale(0.95,1) rotate(-90)" x="0" y="0" font-size="10" text-anchor="middle" fill="#1c1c1c" stroke="#1c1c1c">16</text>
<line x1="718" y1="225.5" x2="764" y2="225.5" stroke="#444" stroke-width="0.6" />
<line x1="718" y1="253.6" x2="764" y2="253.6" stroke="#444" stroke-width="0.6" />
<line x1="761.5" y1="225.5" x2="761.5" y2="253.6" stroke="#1c1c1c" stroke-width="1.0" />
<path d="M761.50,225.50 L762.90,229.50 L760.10,229.50 Z" fill="#1c1c1c"/>
<path d="M761.50,253.60 L760.10,249.60 L762.90,249.60 Z" fill="#1c1c1c"/>
<g transform="translate(760.0,239.7) rotate(-90)"><circle cx="-6.28" cy="-3.5" r="3.2" fill="none" stroke="#1c1c1c" stroke-width="0.9"/><line x1="-8.88" y1="1.3" x2="-3.68" y2="-8.3" stroke="#1c1c1c" stroke-width="0.9"/><text transform="translate(-0.68,0) scale(0.95,1)" x="0" y="0" font-size="10" fill="#1c1c1c" stroke="#1c1c1c">55</text></g>
<line x1="747.1" y1="223.4" x2="747.1" y2="260" stroke="#444" stroke-width="0.6" />
<line x1="732.4" y1="236" x2="750.4" y2="236" stroke="#444" stroke-width="0.6" />
<line x1="732.4" y1="242.5" x2="750.4" y2="242.5" stroke="#444" stroke-width="0.6" />
<text transform="translate(745.4,230.7) scale(0.95,1) rotate(-90)" x="0" y="0" font-size="10" text-anchor="middle" fill="#1c1c1c" stroke="#1c1c1c">13</text>
<text x="721.8" y="275.1" font-size="9.5" text-anchor="middle" fill="#1c1c1c" font-family="Liberation Sans"  stroke="#1c1c1c"><tspan fill="#e8333f" stroke="#e8333f">5-</tspan>Level sensor</text>
<path d="M684,357.3 L684,335.7 L711,299.8 L724.3,299.8 L753.5,328 L753.5,357.3 Z" fill="#fff" stroke="#1c1c1c" stroke-width="1.2"/>
<rect x="711" y="299.3" width="13.3" height="2.2" rx="0" fill="#777" stroke="#1c1c1c" stroke-width="0" />
<line x1="724.3" y1="299.8" x2="755.3" y2="326.6" stroke="#1c1c1c" stroke-width="1.0" />
<line x1="755.3" y1="326.6" x2="753.5" y2="328.2" stroke="#1c1c1c" stroke-width="1.0" />
<rect x="684" y="355.5" width="69.5" height="2" rx="0" fill="#666" stroke="#1c1c1c" stroke-width="0" />
<path d="M702.7,341.5 L723.5,314 L736.8,327.3 L736.8,341.5 Z" fill="none" stroke="#1c1c1c" stroke-width="1.1"/>
<rect x="709.6" y="308.5" width="4.4" height="4.4" fill="#1c1c1c" transform="rotate(45 711.8 310.7)"/>
<rect x="690" y="334.3" width="4.4" height="4.4" fill="#1c1c1c" transform="rotate(45 692.2 336.5)"/>
<circle cx="695.2" cy="349.8" r="2.8" fill="none" stroke="#1c1c1c" stroke-width="0.8"/>
<circle cx="695.2" cy="349.8" r="1" fill="#1c1c1c" stroke="#1c1c1c" stroke-width="0"/>
<rect x="732.7" y="346.5" width="6.6" height="5.8" rx="0" fill="none" stroke="#1c1c1c" stroke-width="0.9" />
<text x="720.5" y="371.5" font-size="9.5" text-anchor="middle" fill="#1c1c1c" font-family="Liberation Sans"  stroke="#1c1c1c"><tspan fill="#e8333f" stroke="#e8333f">6- </tspan>Sheet Part</text>
<g stroke="#1c1c1c" stroke-width="1" stroke-linejoin="round"><path d="M763.3,319.8 L769.2,325.7 L774.4,322.8 L769.8,318.2 Z" fill="#fff"/><path d="M744.6,303.6 L754.2,294.4 L760,296.5 L771.7,312.8 L769.3,316 L765,318.5 L763.3,320 L744.6,311.5 Z" fill="#fff"/><path d="M760,296.5 L764.6,294 L775.2,310.8 L771.7,312.8 Z" fill="#3a3a3a"/><path d="M754.2,294.4 L759.2,290.7 L764.6,294 L760,296.5 Z" fill="#fff"/><path d="M751.7,309 L757.9,302.8 L763.3,314.4 Z" fill="#fff" stroke-width="1.2"/><path d="M765,318.5 L765,321" stroke-width="0.8"/><circle cx="754.6" cy="299" r="0.9" fill="#1c1c1c"/><circle cx="747.9" cy="305.3" r="0.9" fill="#1c1c1c"/><circle cx="748.3" cy="310.7" r="1" fill="#1c1c1c"/></g>
<rect x="520.6" y="391.5" width="257.79999999999995" height="94.78" fill="#fff" stroke="#2a2a2a" stroke-width="1.2"/>
<line x1="520.6" y1="398.27" x2="778.4" y2="398.27" stroke="#2a2a2a" stroke-width="1.1" />
<line x1="520.6" y1="405.04" x2="778.4" y2="405.04" stroke="#2a2a2a" stroke-width="1.1" />
<line x1="520.6" y1="411.81" x2="778.4" y2="411.81" stroke="#2a2a2a" stroke-width="1.1" />
<line x1="520.6" y1="418.58" x2="778.4" y2="418.58" stroke="#2a2a2a" stroke-width="1.1" />
<line x1="520.6" y1="425.35" x2="778.4" y2="425.35" stroke="#2a2a2a" stroke-width="1.1" />
<line x1="520.6" y1="432.12" x2="778.4" y2="432.12" stroke="#2a2a2a" stroke-width="1.1" />
<line x1="520.6" y1="438.89" x2="778.4" y2="438.89" stroke="#2a2a2a" stroke-width="1.1" />
<line x1="520.6" y1="445.66" x2="778.4" y2="445.66" stroke="#2a2a2a" stroke-width="1.1" />
<line x1="520.6" y1="452.43" x2="778.4" y2="452.43" stroke="#2a2a2a" stroke-width="1.1" />
<line x1="520.6" y1="459.2" x2="778.4" y2="459.2" stroke="#2a2a2a" stroke-width="1.1" />
<line x1="520.6" y1="465.97" x2="778.4" y2="465.97" stroke="#2a2a2a" stroke-width="1.1" />
<line x1="520.6" y1="472.74" x2="778.4" y2="472.74" stroke="#2a2a2a" stroke-width="1.1" />
<line x1="520.6" y1="479.51" x2="778.4" y2="479.51" stroke="#2a2a2a" stroke-width="1.1" />
<line x1="546.6" y1="391.5" x2="546.6" y2="486.28" stroke="#2a2a2a" stroke-width="1.2" />
<line x1="576.4" y1="391.5" x2="576.4" y2="486.28" stroke="#2a2a2a" stroke-width="1.2" />
<line x1="697.2" y1="391.5" x2="697.2" y2="486.28" stroke="#2a2a2a" stroke-width="1.2" />
<text x="533.6" y="396.99" font-size="5.9" text-anchor="middle" fill="#3a3a3a" font-family="Liberation Sans" >Item</text>
<text x="561.5" y="396.99" font-size="5.9" text-anchor="middle" fill="#3a3a3a" font-family="Liberation Sans" >Qty</text>
<text x="636.8" y="396.99" font-size="5.9" text-anchor="middle" fill="#3a3a3a" font-family="Liberation Sans" >Part Name</text>
<text x="737.8" y="396.99" font-size="5.9" text-anchor="middle" fill="#3a3a3a" font-family="Liberation Sans" >Material</text>
<text x="533.6" y="403.75" font-size="5.9" text-anchor="middle" fill="#3a3a3a" font-family="Liberation Sans" >1</text>
<text x="561.5" y="403.75" font-size="5.9" text-anchor="middle" fill="#3a3a3a" font-family="Liberation Sans" >1</text>
<text x="636.8" y="403.75" font-size="5.9" text-anchor="middle" fill="#3a3a3a" font-family="Liberation Sans" >Body</text>
<text x="737.8" y="403.75" font-size="5.9" text-anchor="middle" fill="#3a3a3a" font-family="Liberation Sans" >Aluminum 5754 H22 - 2,5mm</text>
<text x="533.6" y="410.53" font-size="5.9" text-anchor="middle" fill="#3a3a3a" font-family="Liberation Sans" >2</text>
<text x="561.5" y="410.53" font-size="5.9" text-anchor="middle" fill="#3a3a3a" font-family="Liberation Sans" >2</text>
<text x="636.8" y="410.53" font-size="5.9" text-anchor="middle" fill="#3a3a3a" font-family="Liberation Sans" >Side Plate</text>
<text x="737.8" y="410.53" font-size="5.9" text-anchor="middle" fill="#3a3a3a" font-family="Liberation Sans" >Aluminum 5754 H111 - 2,5mm</text>
<text x="533.6" y="417.3" font-size="5.9" text-anchor="middle" fill="#3a3a3a" font-family="Liberation Sans" >3</text>
<text x="561.5" y="417.3" font-size="5.9" text-anchor="middle" fill="#3a3a3a" font-family="Liberation Sans" >2</text>
<text x="636.8" y="417.3" font-size="5.9" text-anchor="middle" fill="#3a3a3a" font-family="Liberation Sans" >Baffle Plate</text>
<text x="737.8" y="417.3" font-size="5.9" text-anchor="middle" fill="#3a3a3a" font-family="Liberation Sans" >Aluminum 5754 H111 - 2,5mm</text>
<text x="533.6" y="424.06" font-size="5.9" text-anchor="middle" fill="#3a3a3a" font-family="Liberation Sans" >4</text>
<text x="561.5" y="424.06" font-size="5.9" text-anchor="middle" fill="#3a3a3a" font-family="Liberation Sans" >1</text>
<text x="636.8" y="424.06" font-size="5.9" text-anchor="middle" fill="#3a3a3a" font-family="Liberation Sans" >Filling Neck</text>
<text x="737.8" y="424.06" font-size="5.9" text-anchor="middle" fill="#3a3a3a" font-family="Liberation Sans" >Aluminum 5754 H111 - 2,5mm</text>
<text x="533.6" y="430.84" font-size="5.9" text-anchor="middle" fill="#3a3a3a" font-family="Liberation Sans" >5</text>
<text x="561.5" y="430.84" font-size="5.9" text-anchor="middle" fill="#3a3a3a" font-family="Liberation Sans" >1</text>
<text x="636.8" y="430.84" font-size="5.9" text-anchor="middle" fill="#3a3a3a" font-family="Liberation Sans" >Level Sensor</text>
<text x="533.6" y="437.61" font-size="5.9" text-anchor="middle" fill="#3a3a3a" font-family="Liberation Sans" >6</text>
<text x="561.5" y="437.61" font-size="5.9" text-anchor="middle" fill="#3a3a3a" font-family="Liberation Sans" >1</text>
<text x="636.8" y="437.61" font-size="5.9" text-anchor="middle" fill="#3a3a3a" font-family="Liberation Sans" >Sheet Part</text>
<text x="737.8" y="437.61" font-size="5.9" text-anchor="middle" fill="#3a3a3a" font-family="Liberation Sans" >Aluminum 5754 H22 - 2,5mm</text>
<text x="533.6" y="444.38" font-size="5.9" text-anchor="middle" fill="#3a3a3a" font-family="Liberation Sans" >7</text>
<text x="561.5" y="444.38" font-size="5.9" text-anchor="middle" fill="#3a3a3a" font-family="Liberation Sans" >1</text>
<text x="636.8" y="444.38" font-size="5.9" text-anchor="middle" fill="#3a3a3a" font-family="Liberation Sans" >Vent Adapter 1/2"</text>
<text x="533.6" y="451.14" font-size="5.9" text-anchor="middle" fill="#3a3a3a" font-family="Liberation Sans" >8</text>
<text x="561.5" y="451.14" font-size="5.9" text-anchor="middle" fill="#3a3a3a" font-family="Liberation Sans" >1</text>
<text x="636.8" y="451.14" font-size="5.9" text-anchor="middle" fill="#3a3a3a" font-family="Liberation Sans" >Suction Adater / Nut M22X1,5</text>
<text x="737.8" y="451.14" font-size="5.9" text-anchor="middle" fill="#3a3a3a" font-family="Liberation Sans" >Aluminum 6082</text>
<text x="533.6" y="457.92" font-size="5.9" text-anchor="middle" fill="#3a3a3a" font-family="Liberation Sans" >9</text>
<text x="561.5" y="457.92" font-size="5.9" text-anchor="middle" fill="#3a3a3a" font-family="Liberation Sans" >1</text>
<text x="636.8" y="457.92" font-size="5.9" text-anchor="middle" fill="#3a3a3a" font-family="Liberation Sans" >Washer Ø22mm</text>
<text x="737.8" y="457.92" font-size="5.9" text-anchor="middle" fill="#3a3a3a" font-family="Liberation Sans" >Aluminum 6082</text>
<text x="533.6" y="464.69" font-size="5.9" text-anchor="middle" fill="#3a3a3a" font-family="Liberation Sans" >10</text>
<text x="561.5" y="464.69" font-size="5.9" text-anchor="middle" fill="#3a3a3a" font-family="Liberation Sans" >1</text>
<text x="636.8" y="464.69" font-size="5.9" text-anchor="middle" fill="#3a3a3a" font-family="Liberation Sans" >Suction Adater / Bolt M22X1,5</text>
<text x="737.8" y="464.69" font-size="5.9" text-anchor="middle" fill="#3a3a3a" font-family="Liberation Sans" >Aluminum 6082</text>
<text x="533.6" y="471.46" font-size="5.9" text-anchor="middle" fill="#3a3a3a" font-family="Liberation Sans" >11</text>
<text x="561.5" y="471.46" font-size="5.9" text-anchor="middle" fill="#3a3a3a" font-family="Liberation Sans" >1</text>
<text x="636.8" y="471.46" font-size="5.9" text-anchor="middle" fill="#3a3a3a" font-family="Liberation Sans" >Transfer Nut M16x1,5</text>
<text x="737.8" y="471.46" font-size="5.9" text-anchor="middle" fill="#3a3a3a" font-family="Liberation Sans" >Aluminum 6082</text>
<text x="533.6" y="478.23" font-size="5.9" text-anchor="middle" fill="#3a3a3a" font-family="Liberation Sans" >12</text>
<text x="561.5" y="478.23" font-size="5.9" text-anchor="middle" fill="#3a3a3a" font-family="Liberation Sans" >1</text>
<text x="636.8" y="478.23" font-size="5.9" text-anchor="middle" fill="#3a3a3a" font-family="Liberation Sans" >Washer</text>
<text x="737.8" y="478.23" font-size="5.9" text-anchor="middle" fill="#3a3a3a" font-family="Liberation Sans" >Aluminum 6082</text>
<text x="533.6" y="485.0" font-size="5.9" text-anchor="middle" fill="#3a3a3a" font-family="Liberation Sans" >13</text>
<text x="561.5" y="485.0" font-size="5.9" text-anchor="middle" fill="#3a3a3a" font-family="Liberation Sans" >1</text>
<text x="636.8" y="485.0" font-size="5.9" text-anchor="middle" fill="#3a3a3a" font-family="Liberation Sans" >Transfer Boltt M16x1,5</text>
<text x="737.8" y="485.0" font-size="5.9" text-anchor="middle" fill="#3a3a3a" font-family="Liberation Sans" >Aluminum 6082</text>
<line x1="339.7" y1="486.5" x2="339.7" y2="545.6" stroke="#c6c6c6" stroke-width="1" />
<line x1="395.8" y1="486.5" x2="395.8" y2="545.6" stroke="#c6c6c6" stroke-width="1" />
<line x1="441.5" y1="486.5" x2="441.5" y2="545.6" stroke="#c6c6c6" stroke-width="1" />
<line x1="494.5" y1="486.5" x2="494.5" y2="545.6" stroke="#c6c6c6" stroke-width="1" />
<line x1="575.1" y1="486.5" x2="575.1" y2="545.6" stroke="#c6c6c6" stroke-width="1" />
<line x1="670.6" y1="486.5" x2="670.6" y2="545.6" stroke="#c6c6c6" stroke-width="1" />
<line x1="737.7" y1="486.5" x2="737.7" y2="545.6" stroke="#c6c6c6" stroke-width="1" />
<line x1="778.6" y1="486.5" x2="778.6" y2="545.6" stroke="#c6c6c6" stroke-width="1" />
<line x1="339.7" y1="486.5" x2="778.6" y2="486.5" stroke="#c6c6c6" stroke-width="1" />
<line x1="339.7" y1="501.4" x2="778.6" y2="501.4" stroke="#c6c6c6" stroke-width="1" />
<line x1="339.7" y1="516.0" x2="778.6" y2="516.0" stroke="#c6c6c6" stroke-width="1" />
<line x1="339.7" y1="530.8" x2="778.6" y2="530.8" stroke="#c6c6c6" stroke-width="1" />
<line x1="339.7" y1="545.6" x2="778.6" y2="545.6" stroke="#c6c6c6" stroke-width="1" />
<path d="M349.4,489.7 L363.5,488.2 L363.5,498.9 L349.4,498.2 Z" fill="none" stroke="#aaa" stroke-width="0.9" />
<line x1="347.5" y1="493.6" x2="367.4" y2="493.6" stroke="#aaa" stroke-width="0.7" />
<circle cx="377.3" cy="493.6" r="5.6" fill="none" stroke="#aaa" stroke-width="0.9"/>
<circle cx="377.3" cy="493.6" r="3.1" fill="none" stroke="#aaa" stroke-width="0.9"/>
<line x1="371" y1="493.6" x2="383.6" y2="493.6" stroke="#aaa" stroke-width="0.7" />
<line x1="377.3" y1="486.6" x2="377.3" y2="500.6" stroke="#aaa" stroke-width="0.7" />
<text x="342.2" y="510.4" font-size="7.7" text-anchor="start" fill="#1c1c1c" font-family="Liberation Sans"  stroke="#1c1c1c">Drafter</text>
<text x="342.2" y="522.8" font-size="7.7" text-anchor="start" fill="#1c1c1c" font-family="Liberation Sans"  stroke="#1c1c1c">Approval</text>
<text x="342.2" y="538.5" font-size="7.7" text-anchor="start" fill="#1c1c1c" font-family="Liberation Sans"  stroke="#1c1c1c">Scale</text>
<text x="397.6" y="495.2" font-size="7.7" text-anchor="start" fill="#1c1c1c" font-family="Liberation Sans"  stroke="#1c1c1c">Name</text>
<text x="443" y="495.2" font-size="7.7" text-anchor="start" fill="#1c1c1c" font-family="Liberation Sans"  stroke="#1c1c1c">Signature</text>
<text x="495.8" y="496.4" font-size="7.7" text-anchor="start" fill="#1c1c1c" font-family="Liberation Sans"  stroke="#1c1c1c">Dimensions-A4</text>
<text x="495.8" y="510.4" font-size="7.7" text-anchor="start" fill="#1c1c1c" font-family="Liberation Sans"  stroke="#1c1c1c">Material</text>
<text x="495.8" y="526" font-size="7.7" text-anchor="start" fill="#1c1c1c" font-family="Liberation Sans"  stroke="#1c1c1c">Part Name</text>
<text x="495.8" y="538.5" font-size="7.7" text-anchor="start" fill="#1c1c1c" font-family="Liberation Sans"  stroke="#1c1c1c">Explanation</text>
<text x="577" y="495.2" font-size="7.7" text-anchor="start" fill="#1c1c1c" font-family="Liberation Sans"  stroke="#1c1c1c">Document:ECE R34</text>
<text x="577" y="510.4" font-size="7.7" text-anchor="start" fill="#1c1c1c" font-family="Liberation Sans"  stroke="#1c1c1c">5754 Almumınum</text>
<text x="577" y="525.1" font-size="7.7" text-anchor="start" fill="#1c1c1c" font-family="Liberation Sans"  stroke="#1c1c1c">DAF FUEL TANK</text>
<text x="577" y="540" font-size="7.7" text-anchor="start" fill="#1c1c1c" font-family="Liberation Sans"  stroke="#1c1c1c">620X675X860MM - 335LT</text>
<text x="673.4" y="495.2" font-size="7.7" text-anchor="start" fill="#1c1c1c" font-family="Liberation Sans"  stroke="#1c1c1c">Weight</text>
<text x="673.4" y="510.4" font-size="7.7" text-anchor="start" fill="#1c1c1c" font-family="Liberation Sans"  stroke="#1c1c1c">Date</text>
<text x="673.4" y="525.1" font-size="7.7" text-anchor="start" fill="#1c1c1c" font-family="Liberation Sans"  stroke="#1c1c1c">Tolerans</text>
<text x="673.4" y="538.5" font-size="7.7" text-anchor="start" fill="#1c1c1c" font-family="Liberation Sans"  stroke="#1c1c1c">Page</text>
<text x="757.5" y="510.4" font-size="7.7" text-anchor="middle" fill="#1c1c1c" font-family="Liberation Sans"  stroke="#1c1c1c">11.12.2024</text>
<text x="757.5" y="538.5" font-size="7.7" text-anchor="middle" fill="#1c1c1c" font-family="Liberation Sans"  stroke="#1c1c1c">1</text>
</svg>
</body></html>
